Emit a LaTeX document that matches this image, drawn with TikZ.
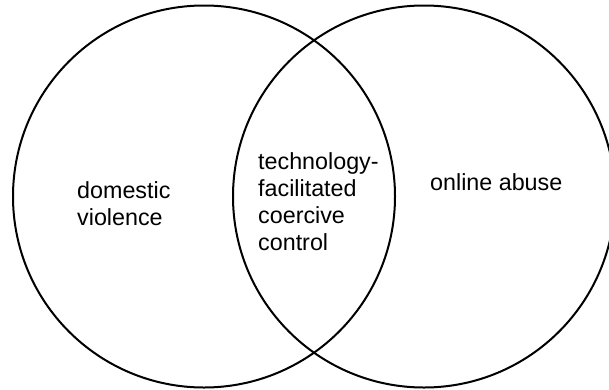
\documentclass[tikz,border=0pt]{standalone}
\usepackage{fontspec}
\setmainfont{Liberation Sans}
\begin{document}
\begin{tikzpicture}[x=1pt,y=-1pt,
  setcircle/.style={draw=black, circle, line width=2pt, minimum size=382pt, inner sep=0pt},
  label/.style={anchor=base west, inner sep=0pt, align=left,
    font=\fontsize{23.3}{27}\selectfont}]
  \useasboundingbox (0,0) rectangle (609,389);
  \clip (0,0) rectangle (609,389);
  % the two overlapping sets
  \node[setcircle] (dv) at (204,196.5) {};
  \node[setcircle] (oa) at (424,196.5) {};
  % set labels (multi-line nodes are placed by the baseline of their last line)
  \node[label] (dvtext) at (77,225) {domestic\\violence};
  \node[label] (oatext) at (430,190) {online abuse};
  \node[label] (tfcc) at (258,250) {technology-\\facilitated\\coercive\\control};
\end{tikzpicture}
\end{document}
